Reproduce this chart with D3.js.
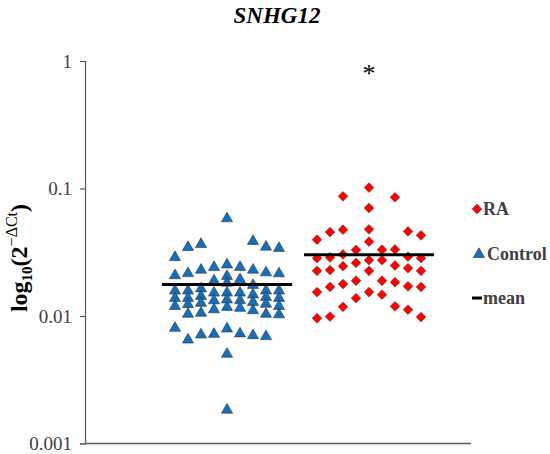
<!DOCTYPE html>
<html>
<head>
    <meta charset='utf-8' />
    <title>SNHG12</title>
    <script src="https://d3js.org/d3.v7.min.js"></script>
    <style>
        body { margin: 0; background: #fff; }
    </style>
</head>
<body>
    <div id="chart"></div>
    <script>

        // groups in the order they sit on the x axis
        var groups = ["Control", "RA"];

        // values read per jitter column (-4 .. 4), left to right
        var controlCols = [
            [0.0293, 0.0211, 0.0160, 0.0140, 0.0121, 0.00815],
            [0.0351, 0.0219, 0.0160, 0.0140, 0.0125, 0.0105, 0.0066],
            [0.0371, 0.0233, 0.0166, 0.0145, 0.0128, 0.0107, 0.00723],
            [0.0245, 0.0192, 0.0154, 0.0134, 0.0114, 0.00731],
            [0.059, 0.0256, 0.0208, 0.0184, 0.0154, 0.0136, 0.0119, 0.00806, 0.0051, 0.00186],
            [0.0245, 0.0196, 0.0154, 0.0134, 0.0117, 0.00737],
            [0.0392, 0.0233, 0.0177, 0.0149, 0.0130, 0.0112, 0.00714],
            [0.0353, 0.0222, 0.0160, 0.0142, 0.0126, 0.0105, 0.00702],
            [0.0345, 0.0218, 0.0160, 0.0140, 0.0121, 0.0104]
        ];

        var raCols = [
            [0.0397, 0.0284, 0.0226, 0.0154, 0.0096],
            [0.0455, 0.0288, 0.0229, 0.0169, 0.0099],
            [0.0868, 0.0475, 0.0304, 0.0246, 0.0178, 0.0118],
            [0.0330, 0.0261, 0.0189, 0.0138],
            [0.1016, 0.0703, 0.0478, 0.0383, 0.0274, 0.0226, 0.0154],
            [0.0331, 0.0274, 0.0189, 0.0147],
            [0.0853, 0.0333, 0.0249, 0.0184, 0.0119],
            [0.0461, 0.0292, 0.0237, 0.0171, 0.0112],
            [0.0429, 0.0284, 0.0226, 0.0169, 0.0098]
        ];

        // mean lines as drawn
        var means = [0.0177, 0.0302];

        var yTicks = [0.001, 0.01, 0.1, 1];
        var yTickLabels = ["0.001", "0.01", "0.1", "1"];

        var legendItems = ["RA", "Control", "mean"];

        var serif = "'Liberation Serif', 'Times New Roman', Times, serif";

        var width = 550,
            height = 454;

        var svg = d3.select("#chart")
            .append("svg")
            .attr("width", width)
            .attr("height", height)
            .style("font-family", serif);

        var y = d3.scaleLog()
            .domain([0.001, 1])
            .range([443.5, 61]);

        var x = d3.scalePoint()
            .domain(groups)
            .range([227, 369]);

        var jitter = d3.scaleLinear()
            .domain([-4, 4])
            .range([-52, 52]);

        var axisColor = "#595959";

        // y axis
        var yAxis = svg.append("g")
            .attr("transform", "translate(85,0)")
            .call(d3.axisLeft(y)
                .tickValues(yTicks)
                .tickSize(5)
                .tickFormat(function (d, i) { return yTickLabels[i]; }));

        yAxis.attr("font-family", null);
        yAxis.select(".domain").attr("stroke", axisColor).attr("stroke-width", 1.2);
        yAxis.selectAll(".tick line").attr("stroke", axisColor).attr("stroke-width", 1.2);
        yAxis.selectAll(".tick text")
            .attr("x", -13)
            .attr("fill", "#404040")
            .style("font-family", serif)
            .style("font-size", "19px");

        // x axis line
        svg.append("line")
            .attr("x1", 85)
            .attr("x2", 471)
            .attr("y1", y(0.001))
            .attr("y2", y(0.001))
            .attr("stroke", axisColor)
            .attr("stroke-width", 1.6);

        function flatten(cols) {
            var pts = [];
            cols.forEach(function (col, i) {
                col.forEach(function (v) {
                    pts.push({ col: i - 4, value: v });
                });
            });
            return pts;
        }

        var tri = d3.symbol().type(d3.symbolTriangle).size(54);
        var dia = d3.symbol().type(d3.symbolSquare).size(48);

        // control triangles
        svg.append("g")
            .selectAll("path")
            .data(flatten(controlCols))
            .enter().append("path")
            .attr("d", tri)
            .attr("transform", function (d) {
                return "translate(" + (x("Control") + jitter(d.col)) + "," + (y(d.value) + 0.8) + ")";
            })
            .attr("fill", "#1570bb")
            .attr("stroke", "#2a3440")
            .attr("stroke-width", 0.6);

        // RA diamonds
        svg.append("g")
            .selectAll("path")
            .data(flatten(raCols))
            .enter().append("path")
            .attr("d", dia)
            .attr("transform", function (d) {
                return "translate(" + (x("RA") + jitter(d.col)) + "," + y(d.value) + ") rotate(45)";
            })
            .attr("fill", "#ff0000")
            .attr("stroke", "#5a3a3a")
            .attr("stroke-width", 0.5);

        // mean lines
        svg.append("g")
            .selectAll("line")
            .data(means)
            .enter().append("line")
            .attr("x1", function (d, i) { return x(groups[i]) - 65; })
            .attr("x2", function (d, i) { return x(groups[i]) + 65; })
            .attr("y1", function (d) { return y(d); })
            .attr("y2", function (d) { return y(d); })
            .attr("stroke", "#000")
            .attr("stroke-width", 3);

        // significance star
        svg.append("text")
            .attr("x", x("RA"))
            .attr("y", 82)
            .attr("text-anchor", "middle")
            .style("font-size", "26px")
            .text("*");

        // title
        svg.append("text")
            .attr("x", 277)
            .attr("y", 23)
            .attr("text-anchor", "middle")
            .style("font-size", "23px")
            .style("font-weight", "bold")
            .style("font-style", "italic")
            .text("SNHG12");

        // y axis title
        var yt = svg.append("text")
            .attr("transform", "translate(27,258) rotate(-90)")
            .attr("text-anchor", "middle")
            .style("font-weight", "bold")
            .style("font-size", "24px");
        yt.append("tspan").text("log");
        yt.append("tspan").attr("dy", 5).style("font-size", "15px").text("10");
        yt.append("tspan").attr("dy", -5).text("(2");
        yt.append("tspan").attr("dy", -10).style("font-size", "16px").style("font-weight", "normal").text("\u2212\u0394Ct");
        yt.append("tspan").attr("dy", 10).text(")");

        // legend
        var legend = svg.append("g");
        var legendY = d3.scalePoint().domain(legendItems).range([209, 298]);

        legend.append("path")
            .attr("d", dia)
            .attr("transform", "translate(477," + legendY("RA") + ") rotate(45)")
            .attr("fill", "#ff0000")
            .attr("stroke", "#5a3a3a")
            .attr("stroke-width", 0.5);
        legend.append("path")
            .attr("d", tri)
            .attr("transform", "translate(479," + (legendY("Control") + 0.8) + ")")
            .attr("fill", "#1570bb")
            .attr("stroke", "#2a3440")
            .attr("stroke-width", 0.6);
        legend.append("line")
            .attr("x1", 472).attr("x2", 482)
            .attr("y1", legendY("mean")).attr("y2", legendY("mean"))
            .attr("stroke", "#000")
            .attr("stroke-width", 3);

        legend.selectAll("text")
            .data(legendItems)
            .enter().append("text")
            .attr("x", function (d) { return d === "Control" ? 487 : 483; })
            .attr("y", function (d) { return legendY(d) + 6; })
            .attr("fill", "#404040")
            .style("font-size", "18px")
            .style("font-weight", "bold")
            .text(function (d) { return d; });
    </script>
</body>
</html>
